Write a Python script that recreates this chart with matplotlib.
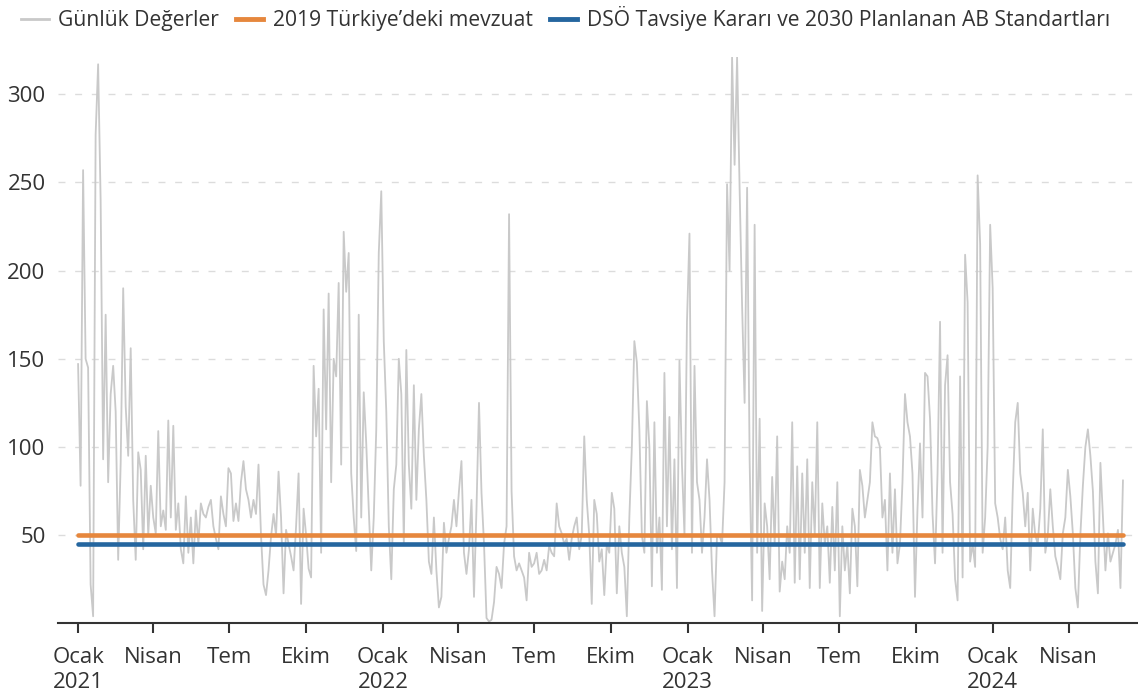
import numpy as np
import pandas as pd
import matplotlib
matplotlib.use("Agg")
from matplotlib import pyplot as plt
from matplotlib.lines import Line2D

plt.rcParams['font.family'] = ['Open Sans', 'DejaVu Sans']

# daily PM values, read every 3rd day from the reference, starting 2021-01-01
start_date = "2021-01-01"
step_days = 3
daily_values = [
    # 2021
    147, 78, 257, 150, 145, 22, 4, 277, 317, 240, 93,
    175, 80, 130, 146, 120, 36, 91, 190, 123,
    95, 156, 70, 36, 97, 87, 42, 95, 50, 78,
    60, 51, 109, 55, 64, 53, 115, 60, 112, 53,
    68, 42, 34, 72, 40, 60, 34, 64, 45, 68, 62,
    60, 66, 70, 55, 48, 42, 72, 62, 55,
    88, 85, 58, 68, 58, 80, 92, 76, 70, 60,
    70, 62, 90, 50, 22, 16, 30, 49, 62, 50,
    86, 60, 17, 53, 45, 38, 30, 55, 85, 11,
    65, 50, 31, 26, 146, 106, 133, 40, 178, 110,
    187, 80, 150, 140, 193, 90, 222, 188, 210, 85,
    60, 41, 175, 60, 131, 102, 65, 30, 60, 110, 210,
    # 2022
    245, 160, 120, 55, 25, 76, 90, 150, 130, 45,
    155, 90, 65, 135, 70, 110, 130, 95, 70, 35,
    28, 60, 30, 9, 15, 57, 40, 48, 55, 70,
    55, 75, 92, 40, 28, 42, 70, 15, 65, 125,
    74, 45, 3, 1, 2, 12, 32, 28, 20, 45,
    55, 232, 75, 38, 30, 34, 30, 26, 13, 40,
    32, 34, 40, 28, 30, 36, 30, 44, 40, 38,
    68, 55, 51, 45, 48, 36, 48, 55, 60, 42,
    50, 106, 70, 50, 11, 70, 62, 35, 42, 16,
    45, 40, 74, 65, 17, 55, 40, 32, 4, 60,
    100, 160, 148, 110, 50, 40, 126, 100, 21, 114,
    40, 60, 19, 142, 55, 117, 42, 93, 20, 149, 90, 50,
    # 2023
    171, 221, 40, 146, 80, 70, 40, 60, 93, 70,
    30, 4, 50, 50, 45, 80, 249, 200, 321, 260,
    321, 247, 180, 125, 247, 93, 13, 226, 40, 116,
    7, 68, 55, 25, 83, 45, 106, 18, 35, 25,
    55, 40, 114, 23, 89, 25, 85, 40, 93, 20,
    80, 50, 114, 20, 68, 45, 55, 23, 66, 30,
    80, 4, 55, 30, 45, 17, 65, 55, 21, 87,
    78, 60, 70, 80, 114, 106, 105, 100, 60, 70,
    30, 85, 40, 76, 34, 45, 80, 130, 114, 106,
    85, 15, 65, 102, 60, 142, 140, 116, 62, 34,
    85, 171, 40, 135, 152, 80, 62, 25, 13, 140,
    26, 209, 182, 35, 45, 32, 254, 215, 40, 60, 100,
    # 2024
    226, 190, 68, 60, 48, 42, 60, 30, 20, 74,
    114, 125, 85, 74, 55, 74, 30, 65, 50, 45,
    65, 110, 40, 50, 76, 55, 38, 32, 25, 51,
    60, 87, 72, 51, 20, 9, 50, 78, 100, 110,
    95, 75, 35, 17, 91, 60, 30, 51, 35, 40,
    45, 53, 20, 81,
]
turkey_limit = 50
who_limit = 45

tick_dates = ["2021-01-01", "2021-04-01", "2021-07-01", "2021-10-01",
              "2022-01-01", "2022-04-01", "2022-07-01", "2022-10-01",
              "2023-01-01", "2023-04-01", "2023-07-01", "2023-10-01",
              "2024-01-01", "2024-04-01"]
tick_labels = ["Ocak\n2021", "Nisan", "Tem", "Ekim",
               "Ocak\n2022", "Nisan", "Tem", "Ekim",
               "Ocak\n2023", "Nisan", "Tem", "Ekim",
               "Ocak\n2024", "Nisan"]
y_ticks = [50, 100, 150, 200, 250, 300]

series_labels = ["Günlük Değerler", "2019 Türkiye’deki mevzuat",
                 "DSÖ Tavsiye Kararı ve 2030 Planlanan AB Standartları"]
gray = "#c9c9c9"
orange = "#e6873d"
blue = "#25669f"
text_col = "#333333"

dates = pd.date_range(start_date, periods=len(daily_values), freq=f"{step_days}D")

fig = plt.figure(figsize=(11.38, 6.98), dpi=100)
ax = fig.add_axes([0.051, 0.107, 0.949, 0.811])

ax.plot(dates, daily_values, color=gray, lw=1.3, zorder=2)
ax.plot([dates[0], dates[-1]], [turkey_limit, turkey_limit], color=orange, lw=3.3, zorder=3,
        solid_capstyle="round")
ax.plot([dates[0], dates[-1]], [who_limit, who_limit], color=blue, lw=3.3, zorder=3,
        solid_capstyle="round")

ax.set_ylim(0, 321)
ax.set_xlim(dates[0] - pd.Timedelta(days=24), dates[-1] + pd.Timedelta(days=18))
ax.set_yticks(y_ticks)
ax.set_xticks(pd.to_datetime(tick_dates))
ax.set_xticklabels(tick_labels)

for s in ["top", "right", "left"]:
    ax.spines[s].set_visible(False)
ax.spines["bottom"].set_color(text_col)
ax.spines["bottom"].set_linewidth(1.5)

ax.tick_params(axis="x", length=7, width=1.5, color=text_col, labelsize=16,
               labelcolor=text_col, pad=10)
ax.tick_params(axis="y", length=0, labelsize=16, labelcolor=text_col, pad=9)
for lab in ax.get_xticklabels():
    lab.set_linespacing(1.25)

ax.yaxis.grid(True, ls=(0, (5, 7)), color="#dcdcdc", lw=1)
ax.set_axisbelow(True)

handles = [Line2D([], [], color=gray, lw=2),
           Line2D([], [], color=orange, lw=3.5),
           Line2D([], [], color=blue, lw=3.5)]
fig.legend(handles, series_labels, loc="upper left", bbox_to_anchor=(0.002, 1.018),
           ncol=3, frameon=False, fontsize=15.2, handlelength=1.3, handletextpad=0.45,
           columnspacing=0.8, labelcolor=text_col)

fig.savefig("out.png", dpi=100)
